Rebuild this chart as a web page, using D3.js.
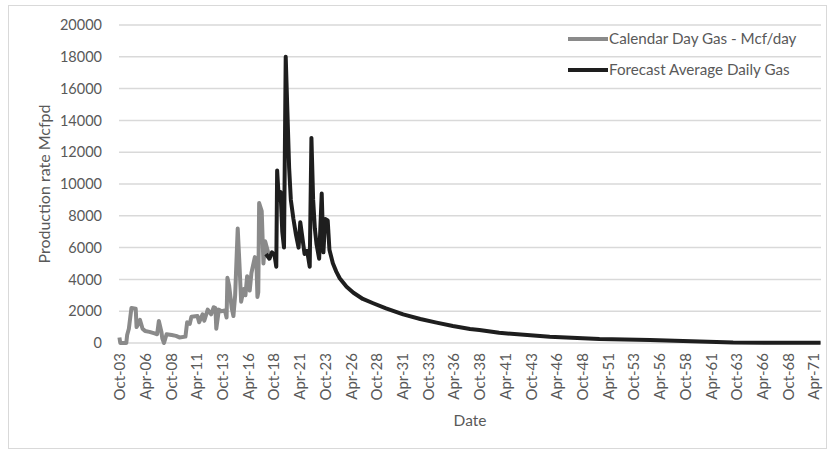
<!DOCTYPE html>
<html>
<head>
<meta charset="utf-8">
<script src="https://cdn.jsdelivr.net/npm/d3@7"></script>
<style>
  html, body { margin: 0; padding: 0; background: #fff; }
  svg { display: block; }
  text { font-family: Lato, "Liberation Sans", sans-serif; fill: #595959; }
</style>
</head>
<body>
<svg id="chart" width="830" height="452"></svg>
<script>
// Monthly production history (Mcf/day), key points by month
const actualDates = ["2003-10","2003-11","2004-06","2004-07","2004-09","2004-12","2005-05","2005-06","2005-08","2005-10",
  "2006-01","2006-04","2006-09","2007-03","2007-06","2007-08","2007-11","2007-12","2008-02","2008-05",
  "2008-11","2009-04","2009-08","2010-03","2010-05","2010-08","2010-10","2011-05","2011-07","2011-11",
  "2012-01","2012-05","2012-09","2012-12","2013-02","2013-03","2013-06","2013-09","2014-01","2014-03",
  "2014-04","2014-06","2014-09","2014-11","2015-01","2015-04","2015-06","2015-08","2015-11","2016-01",
  "2016-03","2016-06","2016-08","2016-12","2017-02","2017-03","2017-04","2017-05","2017-08","2017-10",
  "2017-12","2018-03","2018-05"];
const actualValues = [350,0,0,500,900,2200,2150,1000,1200,1450,
  900,750,700,600,550,1380,700,300,0,550,
  500,450,350,400,1300,1200,1650,1700,1300,1800,
  1400,2100,1800,2250,2200,900,2100,2000,2050,1600,
  4100,3600,2200,1700,3000,7200,5000,2600,3400,3000,
  4200,3300,4400,5400,4800,2900,3200,8800,8300,5000,
  6400,5800,5400];

// Forecast average daily gas (Mcf/day)
const forecastDates = ["2018-01","2018-05","2018-08","2018-11","2019-01","2019-02","2019-04","2019-06","2019-08","2019-10",
  "2019-12","2020-02","2020-04","2020-06","2020-09","2020-12","2021-03","2021-05","2021-07","2021-10",
  "2022-01","2022-04","2022-06","2022-08","2022-10","2022-12","2023-03","2023-06","2023-08","2023-10",
  "2024-01","2024-03","2024-07","2024-11","2025-03","2025-11","2026-07","2027-06","2028-06","2029-09",
  "2031-05","2033-01","2034-08","2036-03","2037-11","2038-10","2040-09","2045-08","2050-06","2055-05",
  "2060-03","2063-06","2067-01","2071-12"];
const forecastValues = [5600,5300,5700,5500,4800,10850,9000,9500,7000,6000,
  18000,14500,11000,9000,7800,6800,6000,7600,6800,5600,
  5800,4800,12900,9000,7200,6200,5300,9400,5700,7800,
  7700,5870,5010,4490,4070,3540,3160,2770,2500,2180,
  1800,1510,1280,1070,880,820,640,400,250,190,
  100,30,15,10];

const yTicks = [0,2000,4000,6000,8000,10000,12000,14000,16000,18000,20000];
const seriesNames = ["Calendar Day Gas - Mcf/day", "Forecast Average Daily Gas"];

const lastMonth = "2071-12";
const monthIndex = s => { const [yr, mo] = s.split("-").map(Number); return (yr - 2003) * 12 + (mo - 10); };
const nMonths = monthIndex(lastMonth) + 1;

const svg = d3.select("#chart");
const plotLeft = 119, plotRight = 821, plotTop = 25, plotBottom = 343;

// chart area border
svg.append("rect").attr("x", 8.5).attr("y", 5.5).attr("width", 818).attr("height", 443)
  .attr("fill", "#fff").attr("stroke", "#d9d9d9").attr("stroke-width", 1);

const x = d3.scaleLinear().domain([-0.5, nMonths - 0.5]).range([plotLeft, plotRight]);
const y = d3.scaleLinear().domain([0, 20000]).range([plotBottom, plotTop]);

// horizontal gridlines
svg.append("g").selectAll("line").data(yTicks).join("line")
  .attr("x1", plotLeft).attr("x2", plotRight)
  .attr("y1", d => y(d)).attr("y2", d => y(d))
  .attr("stroke", "#d9d9d9").attr("stroke-width", 1.5);

// y axis labels
const yAxis = d3.axisLeft(y).tickValues(yTicks).tickSize(0).tickPadding(0).tickFormat(d3.format("d"));
svg.append("g").attr("transform", `translate(${plotLeft - 17},0)`).call(yAxis)
  .call(g => g.select(".domain").remove())
  .selectAll("text").style("font-size", "14.5px").attr("fill", "#595959")
  .style("font-family", "Lato, 'Liberation Sans', sans-serif");

// x axis: a label every 30 months
const fmt = d3.timeFormat("%b-%y");
const tickIdx = d3.range(0, nMonths, 30);
const xAxis = d3.axisBottom(x).tickValues(tickIdx).tickSize(0).tickPadding(0)
  .tickFormat(i => fmt(new Date(2003, 9 + i, 1)));
svg.append("g").attr("transform", `translate(0,${plotBottom})`).call(xAxis)
  .call(g => g.select(".domain").remove())
  .selectAll("text")
  .attr("transform", "rotate(-90)")
  .attr("text-anchor", "end")
  .attr("x", -10).attr("y", 0).attr("dy", "0.35em")
  .style("font-size", "15px").attr("fill", "#595959")
  .style("font-family", "Lato, 'Liberation Sans', sans-serif");

// axis titles
svg.append("text").attr("x", x((nMonths - 1) / 2)).attr("y", 426)
  .attr("text-anchor", "middle").style("font-size", "15.5px").text("Date");
svg.append("text").attr("transform", `translate(50,${(plotTop + plotBottom) / 2}) rotate(-90)`)
  .attr("text-anchor", "middle").style("font-size", "16px").text("Production rate Mcfpd");

const line = d3.line().x(d => x(d[0])).y(d => y(d[1]));
const actual = actualDates.map((d, i) => [monthIndex(d), actualValues[i]]);
const forecast = forecastDates.map((d, i) => [monthIndex(d), forecastValues[i]]);

const colors = ["#8a8a8a", "#1e1e1e"];
svg.append("path").datum(actual).attr("d", line)
  .attr("fill", "none").attr("stroke", colors[0]).attr("stroke-width", 4).attr("stroke-linejoin", "round");
svg.append("path").datum(forecast).attr("d", line)
  .attr("fill", "none").attr("stroke", colors[1]).attr("stroke-width", 4).attr("stroke-linejoin", "round");

// legend
const legend = svg.append("g");
seriesNames.forEach((name, i) => {
  const ly = 39 + i * 31;
  legend.append("line").attr("x1", 568).attr("x2", 608).attr("y1", ly).attr("y2", ly)
    .attr("stroke", colors[i]).attr("stroke-width", 4);
  legend.append("text").attr("x", 609).attr("y", ly).attr("dy", "0.35em")
    .style("font-size", "15.2px").text(name);
});
</script>
</body>
</html>
